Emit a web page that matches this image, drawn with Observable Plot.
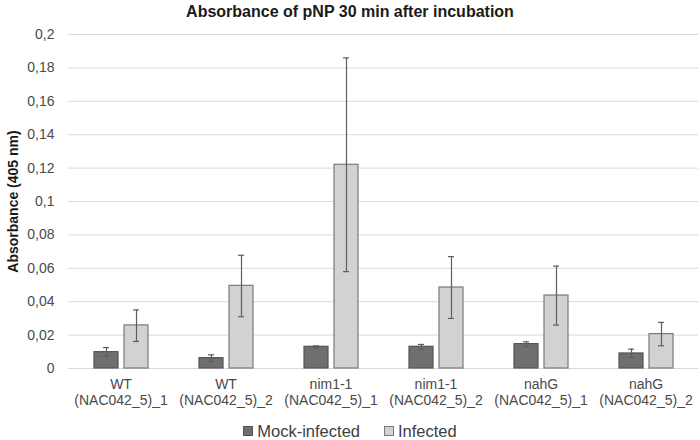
<!DOCTYPE html>
<html><head><meta charset="utf-8">
<script src="https://cdn.jsdelivr.net/npm/d3@7"></script>
<script src="https://cdn.jsdelivr.net/npm/@observablehq/plot@0.6"></script>
<style>
body{margin:0;background:#fff;font-family:"Liberation Sans",Arial,sans-serif;}
#title{height:22px;line-height:24px;text-align:center;font-weight:bold;font-size:16px;color:#1a1a1a;width:700px;}
#legend{height:18px;display:flex;justify-content:center;align-items:center;font-size:16.5px;color:#404040;width:700px;}
.sw{display:inline-block;width:10px;height:10px;margin-right:4px;box-sizing:border-box;}
.it{display:flex;align-items:center;margin:0 12px;}
svg [aria-label="y-axis label"] text{font-weight:bold;fill:#1a1a1a;font-size:14px;}
</style></head>
<body>
<div id="title">Absorbance of pNP 30 min after incubation</div>
<div id="chart"></div>
<div id="legend"></div>
<script>
const groups = ["WT\n(NAC042_5)_1","WT\n(NAC042_5)_2","nim1-1\n(NAC042_5)_1","nim1-1\n(NAC042_5)_2","nahG\n(NAC042_5)_1","nahG\n(NAC042_5)_2"];
const series = ["Mock-infected","Infected"];
const mockMean = [0.0098,0.0062,0.0130,0.0130,0.0146,0.0090];
const mockLow  = [0.0075,0.0042,0.0125,0.0116,0.0132,0.0066];
const mockHigh = [0.0125,0.0082,0.0135,0.0144,0.0160,0.0116];
const infMean  = [0.0258,0.0495,0.1220,0.0485,0.0437,0.0206];
const infLow   = [0.0162,0.0310,0.0580,0.0300,0.0260,0.0136];
const infHigh  = [0.0351,0.0678,0.1860,0.0670,0.0613,0.0276];
const yTicks = [0,0.02,0.04,0.06,0.08,0.1,0.12,0.14,0.16,0.18,0.2];

const fills = {"Mock-infected":"#6f6f6f","Infected":"#d2d2d2"};
const strokes = {"Mock-infected":"#545454","Infected":"#7a7a7a"};

const data = [];
groups.forEach((g,i)=>{
  data.push({group:g,series:"Mock-infected",v:mockMean[i],lo:mockLow[i],hi:mockHigh[i]});
  data.push({group:g,series:"Infected",v:infMean[i],lo:infLow[i],hi:infHigh[i]});
});
const fmt = d => String(+d.toFixed(2)).replace(".", ",");

const chart = Plot.plot({
  width:700, height:400,
  marginTop:12, marginBottom:54, marginLeft:67, marginRight:2,
  style:{fontFamily:"Liberation Sans, Arial, sans-serif", fontSize:"13px", color:"#4a4a4a", background:"#fff"},
  fx:{domain:groups, padding:0, label:null},
  x:{domain:series, paddingInner:0.2, paddingOuter:0.85, axis:null},
  y:{domain:[0,0.2], label:"Absorbance (405 nm)"},
  marks:[
    Plot.gridY(yTicks,{stroke:"#d9d9d9", strokeOpacity:1, strokeWidth:1}),
    Plot.axisY(yTicks,{tickSize:0, tickPadding:14, tickFormat:fmt, fill:"#4a4a4a", label:"Absorbance (405 nm)", labelAnchor:"center", labelOffset:60, labelArrow:"none", fontSize:14}),
    Plot.axisFx({anchor:"bottom", tickSize:0, tickPadding:9, lineHeight:1.15, fill:"#4a4a4a", label:null, fontSize:14}),
    Plot.barY(data,{fx:"group", x:"series", y:"v", fill:d=>fills[d.series], stroke:d=>strokes[d.series], strokeWidth:1.2}),
    Plot.ruleX(data,{fx:"group", x:"series", y1:"lo", y2:"hi", stroke:"#5e5e5e", strokeWidth:1.2}),
    Plot.tickY(data,{fx:"group", x:"series", y:"lo", stroke:"#5e5e5e", strokeWidth:1.2, insetLeft:9, insetRight:9}),
    Plot.tickY(data,{fx:"group", x:"series", y:"hi", stroke:"#5e5e5e", strokeWidth:1.2, insetLeft:9, insetRight:9})
  ]
});
document.getElementById("chart").appendChild(chart);

const lg = document.getElementById("legend");
series.forEach(s=>{
  const it = document.createElement("div"); it.className="it";
  const sw = document.createElement("span"); sw.className="sw";
  sw.style.background = fills[s]; sw.style.border = "1px solid "+strokes[s];
  it.appendChild(sw);
  it.appendChild(document.createTextNode(s));
  lg.appendChild(it);
});
</script>
</body></html>
